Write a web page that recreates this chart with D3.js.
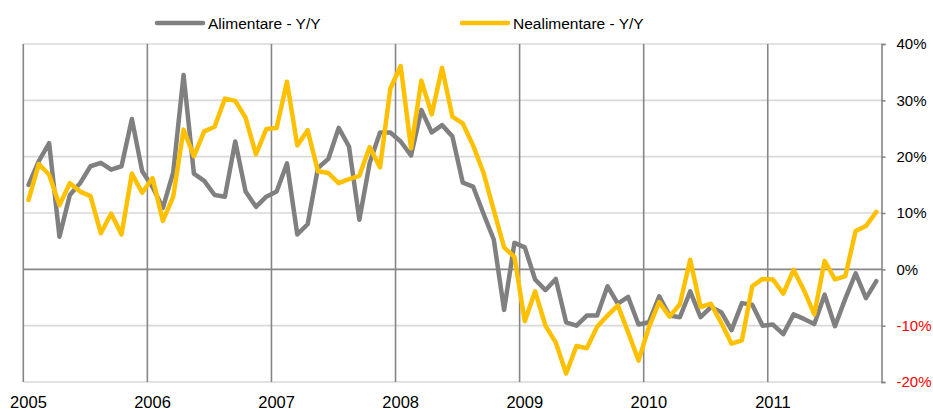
<!DOCTYPE html>
<html>
<head>
<meta charset="utf-8">
<script src="https://cdn.jsdelivr.net/npm/d3@7"></script>
<style>
  body { margin: 0; background: #fff; }
  svg { display: block; font-family: "Liberation Sans", Arial, sans-serif; }
</style>
</head>
<body>
<div id="chart"></div>
<script>
// Year labels on the x axis, monthly data Jan 2005 - Nov 2011
var years = ["2005", "2006", "2007", "2008", "2009", "2010", "2011"];
var yTicks = [-20, -10, 0, 10, 20, 30, 40];

// Alimentare - Y/Y (%)
var alimentare = [
  15.0, 19.2, 22.4, 5.8, 13.2, 15.3, 18.3, 18.9, 17.7, 18.3, 26.7, 17.4,
  14.6, 10.9, 17.2, 34.5, 17.0, 15.7, 13.2, 12.9, 22.7, 13.8, 11.1, 12.9,
  13.8, 18.8, 6.2, 8.0, 18.0, 19.6, 25.1, 21.8, 8.8, 18.9, 24.3, 24.3,
  22.7, 20.2, 28.3, 24.3, 25.6, 23.6, 15.4, 14.7, 9.9, 5.3, -7.2, 4.7,
  3.9, -1.8, -3.7, -1.7, -9.4, -10.0, -8.2, -8.2, -3.0, -6.1, -4.9, -9.8,
  -9.4, -4.8, -8.2, -8.5, -3.9, -8.5, -6.7, -7.6, -10.8, -6.0, -6.3, -10.0,
  -9.8, -11.5, -8.0, -8.8, -9.7, -4.5, -10.1, -5.2, -0.7, -5.1, -2.1
];

// Nealimentare - Y/Y (%)
var nealimentare = [
  12.3, 18.7, 16.8, 11.4, 15.3, 13.8, 13.0, 6.4, 9.9, 6.2, 17.0, 13.6,
  16.2, 8.6, 12.9, 24.8, 20.1, 24.5, 25.3, 30.3, 29.9, 26.9, 20.4, 24.9,
  25.1, 33.3, 22.0, 24.7, 17.4, 17.1, 15.3, 16.0, 16.6, 21.7, 18.1, 32.1,
  36.1, 21.5, 33.5, 27.5, 35.8, 27.1, 25.9, 22.0, 17.2, 10.5, 3.9, 2.2,
  -9.2, -3.9, -10.0, -13.0, -18.5, -13.6, -14.0, -10.2, -8.2, -6.4, -11.2, -16.2,
  -10.3, -5.8, -8.4, -6.2, 1.7, -6.7, -6.1, -9.5, -13.2, -12.6, -3.0, -1.7,
  -1.8, -4.3, -0.1, -3.7, -8.0, 1.5, -1.8, -1.2, 6.8, 7.7, 10.2
];

var seriesNames = ["Alimentare - Y/Y", "Nealimentare - Y/Y"];
var seriesColors = ["#808080", "#FFC000"];

// month keys, e.g. "2005-01"
var months = [];
years.forEach(function (y) {
  for (var m = 1; m <= 12; m++) months.push(y + "-" + (m < 10 ? "0" + m : m));
});
months = months.slice(0, alimentare.length);

var svgWidth = 933;
var svgHeight = 412;
var plot = { left: 23.3, right: 881.5, top: 44, bottom: 382 };

var svg = d3.select("#chart")
  .append("svg")
  .attr("width", svgWidth)
  .attr("height", svgHeight);

var xScale = d3.scaleBand()
  .domain(months)
  .range([plot.left, plot.right]);

var yScale = d3.scaleLinear()
  .domain([-20, 40])
  .range([plot.bottom, plot.top]);

var xMid = function (i) { return xScale(months[i]) + xScale.bandwidth() / 2; };

// horizontal gridlines
svg.append("g")
  .selectAll("line")
  .data(yTicks)
  .enter()
  .append("line")
  .attr("x1", plot.left)
  .attr("x2", plot.right)
  .attr("y1", d => yScale(d))
  .attr("y2", d => yScale(d))
  .attr("stroke", d => d === 0 ? "#868686" : "#d9d9d9")
  .attr("stroke-width", 1.6);

// vertical year gridlines
svg.append("g")
  .selectAll("line")
  .data(years)
  .enter()
  .append("line")
  .attr("x1", d => xScale(d + "-01"))
  .attr("x2", d => xScale(d + "-01"))
  .attr("y1", plot.top)
  .attr("y2", plot.bottom)
  .attr("stroke", "#868686")
  .attr("stroke-width", 1.6);

// right y axis
var yAxis = d3.axisRight(yScale)
  .tickValues(yTicks)
  .tickSize(4)
  .tickPadding(11)
  .tickFormat(d => d + "%");

var yAxisG = svg.append("g")
  .attr("transform", `translate(${plot.right}, 0)`)
  .call(yAxis);

yAxisG.select(".domain").attr("stroke", "#868686").attr("stroke-width", 1.6);
yAxisG.selectAll(".tick line").attr("stroke", "#868686").attr("stroke-width", 1.6);
yAxisG.selectAll(".tick text")
  .attr("font-size", "15px")
  .attr("font-family", "Liberation Sans, Arial, sans-serif")
  .attr("fill", d => d < 0 ? "#ff0000" : "#000");

// x axis labels (years)
var xAxis = d3.axisBottom(xScale)
  .tickValues(years.map(y => y + "-01"))
  .tickSize(0)
  .tickPadding(0)
  .tickFormat(d => d.slice(0, 4));

var xAxisG = svg.append("g")
  .attr("transform", `translate(0, 408)`)
  .call(xAxis);
xAxisG.select(".domain").remove();
xAxisG.selectAll(".tick text")
  .attr("font-size", "16.5px")
  .attr("font-family", "Liberation Sans, Arial, sans-serif")
  .attr("fill", "#000")
  .attr("dy", "0");

// lines
var line = d3.line()
  .x((d, i) => xMid(i))
  .y(d => yScale(d));

[alimentare, nealimentare].forEach(function (values, k) {
  svg.append("path")
    .datum(values)
    .attr("fill", "none")
    .attr("stroke", seriesColors[k])
    .attr("stroke-width", 4.5)
    .attr("stroke-linejoin", "round")
    .attr("stroke-linecap", "round")
    .attr("d", line);
});

// legend
var legendX = [157, 462];
var legend = svg.append("g");
seriesNames.forEach(function (name, k) {
  legend.append("line")
    .attr("x1", legendX[k])
    .attr("x2", legendX[k] + 46)
    .attr("y1", 23)
    .attr("y2", 23)
    .attr("stroke", seriesColors[k])
    .attr("stroke-width", 4.5)
    .attr("stroke-linecap", "round");
  legend.append("text")
    .attr("x", legendX[k] + 51)
    .attr("y", 29)
    .attr("font-size", "15.5px")
    .attr("fill", "#000")
    .text(name);
});
</script>
</body>
</html>
